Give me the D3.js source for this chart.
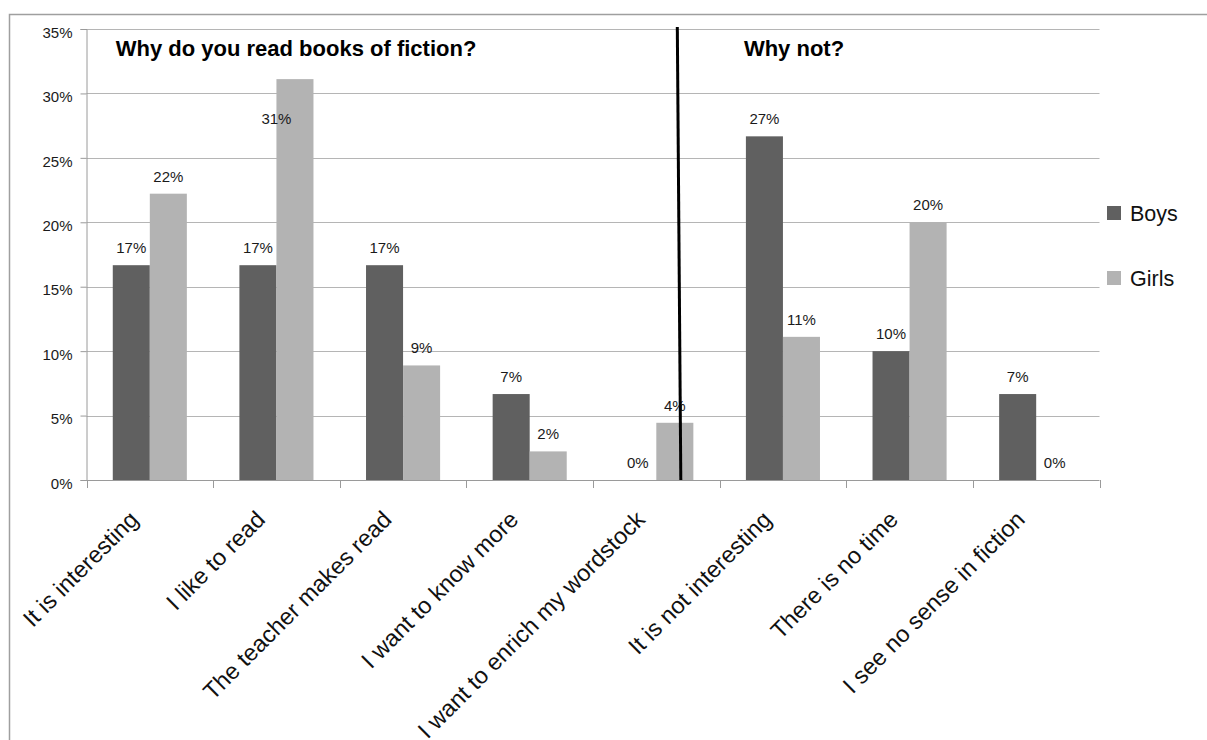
<!DOCTYPE html>
<html>
<head>
<meta charset="utf-8">
<script src="https://cdn.jsdelivr.net/npm/d3@7"></script>
<style>
  html, body { margin: 0; padding: 0; background: #ffffff; }
  svg { display: block; font-family: "Liberation Sans", Arial, sans-serif; }
</style>
</head>
<body>
<svg id="chart" width="1207" height="740"></svg>
<script>
// Reasons for reading (and not reading) fiction, share of respondents
const categories = [
  "It is interesting",
  "I like to read",
  "The teacher makes read",
  "I want to know more",
  "I want to enrich my wordstock",
  "It is not interesting",
  "There is no time",
  "I see no sense in fiction"
];
const seriesNames = ["Boys", "Girls"];
const boys  = [0.1667, 0.1667, 0.1667, 0.0667, 0.0000, 0.2667, 0.1000, 0.0667];
const girls = [0.2222, 0.3111, 0.0889, 0.0222, 0.0444, 0.1111, 0.2000, 0.0000];
const yTicks = [0, 0.05, 0.10, 0.15, 0.20, 0.25, 0.30, 0.35];
const sectionTitles = ["Why do you read books of fiction?", "Why not?"];

const colors = { Boys: "#606060", Girls: "#b3b3b3" };

const svg = d3.select("#chart");
const W = 1207, H = 740;

// outer chart frame
svg.append("rect")
  .attr("x", 9.5).attr("y", 14.5)
  .attr("width", W + 10).attr("height", H + 10)
  .attr("fill", "none").attr("stroke", "#9f9f9f").attr("stroke-width", 1.5);

const plot = { left: 86.5, right: 1099.5, top: 29, bottom: 480 };

const x0 = d3.scaleBand()
  .domain(categories)
  .range([plot.left, plot.right])
  .paddingInner(0.415)
  .paddingOuter(0.2075);

const x1 = d3.scaleBand()
  .domain(seriesNames)
  .range([0, x0.bandwidth()]);

const y = d3.scaleLinear()
  .domain([0, 0.35])
  .range([plot.bottom, plot.top]);

const fmt = d3.format(".0%");

// horizontal gridlines
svg.append("g")
  .selectAll("line")
  .data(yTicks.filter(d => d > 0))
  .join("line")
  .attr("x1", plot.left).attr("x2", plot.right)
  .attr("y1", d => Math.round(y(d)) + 0.5).attr("y2", d => Math.round(y(d)) + 0.5)
  .attr("stroke", "#b5b5b5").attr("stroke-width", 1);

// y axis
const yAxis = svg.append("g")
  .attr("transform", `translate(${plot.left},0)`)
  .call(d3.axisLeft(y).tickValues(yTicks).tickFormat(fmt).tickSize(6).tickPadding(8));
yAxis.select(".domain").attr("stroke", "#9a9a9a");
yAxis.selectAll(".tick line").attr("stroke", "#9a9a9a");
yAxis.selectAll(".tick text")
  .attr("font-size", 15).attr("fill", "#1a1a1a")
  .attr("font-family", "'Liberation Sans', Arial, sans-serif")
  .attr("dy", "0.55em");

// bars
const rows = categories.map((c, i) => ({ cat: c, values: [
  { key: "Boys", value: boys[i] },
  { key: "Girls", value: girls[i] }
]}));

const groups = svg.append("g")
  .selectAll("g")
  .data(rows)
  .join("g")
  .attr("transform", d => `translate(${x0(d.cat)},0)`);

groups.selectAll("rect")
  .data(d => d.values)
  .join("rect")
  .attr("x", d => x1(d.key))
  .attr("width", x1.bandwidth())
  .attr("y", d => y(d.value))
  .attr("height", d => y(0) - y(d.value))
  .attr("fill", d => colors[d.key]);

// value labels; a label that would run into the section title band
// is tucked down beside the top of its bar instead
const titleBand = 70;
groups.selectAll("text")
  .data(d => d.values)
  .join("text")
  .each(function(d) {
    const cx = x1(d.key) + x1.bandwidth() / 2;
    const ly = y(d.value) - 12;
    const clash = ly - 12 < titleBand;
    d3.select(this)
      .attr("x", clash ? cx - 18.5 : cx)
      .attr("y", clash ? y(d.value) + 45 : ly);
  })
  .attr("text-anchor", "middle")
  .attr("font-size", 15)
  .attr("fill", "#1a1a1a")
  .text(d => fmt(d.value));

// x axis with category ticks at band boundaries
const xAxisG = svg.append("g");
xAxisG.append("line")
  .attr("x1", plot.left).attr("x2", plot.right)
  .attr("y1", plot.bottom + 0.5).attr("y2", plot.bottom + 0.5)
  .attr("stroke", "#9a9a9a");
const step = x0.step();
const boundaries = d3.range(categories.length + 1).map(i => plot.left + i * step);
xAxisG.selectAll("line.tick")
  .data(boundaries)
  .join("line")
  .attr("class", "tick")
  .attr("x1", d => Math.round(d) + 0.5).attr("x2", d => Math.round(d) + 0.5)
  .attr("y1", plot.bottom).attr("y2", plot.bottom + 8)
  .attr("stroke", "#9a9a9a");

xAxisG.selectAll("text")
  .data(categories)
  .join("text")
  .attr("transform", d => {
    const cx = x0(d) + x0.bandwidth() / 2 - 10;
    return `translate(${cx},${plot.bottom + 41}) rotate(-45)`;
  })
  .attr("text-anchor", "end")
  .attr("font-size", 23.5)
  .attr("fill", "#111")
  .text(d => d);

// section titles
svg.append("text")
  .attr("x", x0(categories[0]) + 3).attr("y", 56)
  .attr("font-size", 22).attr("font-weight", "bold").attr("fill", "#000")
  .text(sectionTitles[0]);
svg.append("text")
  .attr("x", x0(categories[5]) - 2).attr("y", 56)
  .attr("font-size", 22).attr("font-weight", "bold").attr("fill", "#000")
  .text(sectionTitles[1]);

// divider between the two question blocks
const divX = x0(categories[4]) + x1("Girls") + 24.5;
svg.append("line")
  .attr("x1", divX - 3.5).attr("y1", y(0.35) - 2)
  .attr("x2", divX).attr("y2", y(0))
  .attr("stroke", "#000").attr("stroke-width", 3);

// legend
const legend = svg.append("g")
  .selectAll("g")
  .data(seriesNames)
  .join("g")
  .attr("transform", (d, i) => `translate(1107,${206 + i * 65})`);
legend.append("rect")
  .attr("width", 14).attr("height", 14)
  .attr("fill", d => colors[d]);
legend.append("text")
  .attr("x", 23).attr("y", 14.5)
  .attr("font-size", 21.5).attr("fill", "#111")
  .text(d => d);
</script>
</body>
</html>
